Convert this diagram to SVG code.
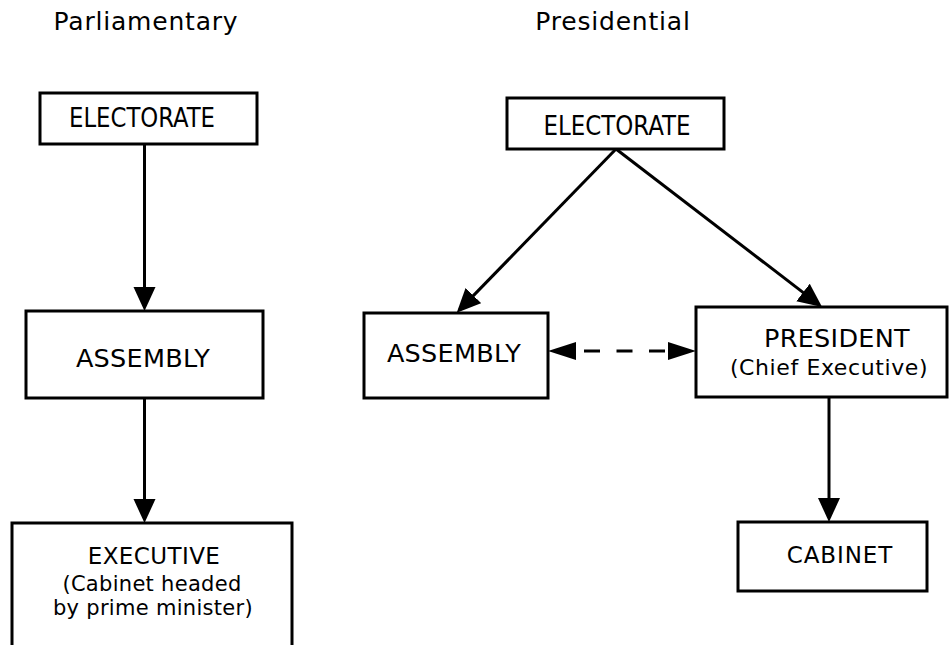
<svg xmlns="http://www.w3.org/2000/svg" width="950" height="645" viewBox="0 0 950 645">
<defs>
<marker id="ah" markerUnits="userSpaceOnUse" markerWidth="26" markerHeight="24" refX="20" refY="11" orient="auto-start-reverse">
<path d="M0,0 L24,11 L0,22 z" fill="#000"/>
</marker>
<style>
.box{fill:#fff;stroke:#000;stroke-width:3}
.t{font-family:"DejaVu Sans","Verdana",sans-serif;fill:#000;text-anchor:middle}
.title{font-size:25px;letter-spacing:0.8px}
.main{font-size:25.5px;letter-spacing:0.3px}
.sub{font-size:21px;letter-spacing:0.3px}
.el{font-family:"Liberation Sans Narrow","DejaVu Sans Condensed","Liberation Sans",sans-serif;font-size:27px;fill:#000;text-anchor:middle}
.c{fill:none;stroke:#000;stroke-width:3}
</style>
</defs>
<text class="t title" x="146" y="30">Parliamentary</text>
<text class="t title" x="613" y="30">Presidential</text>
<g id="connectors">
<line class="c" x1="144.5" y1="144" x2="144.5" y2="307" marker-end="url(#ah)"/>
<line class="c" x1="144.5" y1="397" x2="144.5" y2="519" marker-end="url(#ah)"/>
<line class="c" x1="616" y1="149" x2="459.5" y2="309.9" marker-end="url(#ah)"/>
<line class="c" x1="616" y1="149" x2="818.9" y2="304.6" marker-end="url(#ah)"/>
<line class="c" x1="829" y1="397" x2="829" y2="518" marker-end="url(#ah)"/>
<line class="c" x1="584" y1="351" x2="666" y2="351" stroke-dasharray="16 16.5"/>
<path d="M548,351 L576,342 L576,360 z" fill="#000"/>
<path d="M696,351 L668,342 L668,360 z" fill="#000"/>
</g>
<g id="p-electorate">
<rect class="box" x="40" y="93" width="217" height="51"/>
<text class="el" x="142" y="127" textLength="146" lengthAdjust="spacingAndGlyphs">ELECTORATE</text>
</g>
<g id="p-assembly">
<rect class="box" x="26" y="311" width="237" height="87"/>
<text class="t main" x="143" y="367">ASSEMBLY</text>
</g>
<g id="p-executive">
<rect class="box" x="12" y="523" width="280" height="160"/>
<text class="t" x="154" y="564" style="font-size:23px;letter-spacing:0.4px">EXECUTIVE</text>
<text class="t sub" x="152" y="590.5">(Cabinet headed</text>
<text class="t sub" x="153" y="615">by prime minister)</text>
</g>
<g id="r-electorate">
<rect class="box" x="507" y="98" width="217" height="51"/>
<text class="el" x="617" y="135" textLength="147" lengthAdjust="spacingAndGlyphs">ELECTORATE</text>
</g>
<g id="r-assembly">
<rect class="box" x="364" y="313" width="184" height="85"/>
<text class="t main" x="454" y="362">ASSEMBLY</text>
</g>
<g id="r-president">
<rect class="box" x="696" y="307" width="251" height="90"/>
<text class="t main" x="837" y="347">PRESIDENT</text>
<text class="t" x="829" y="375" style="font-size:22px;letter-spacing:0.6px">(Chief Executive)</text>
</g>
<g id="r-cabinet">
<rect class="box" x="738" y="522" width="189" height="69"/>
<text class="t" x="840" y="563" style="font-size:23px;letter-spacing:0.9px">CABINET</text>
</g>
</svg>
